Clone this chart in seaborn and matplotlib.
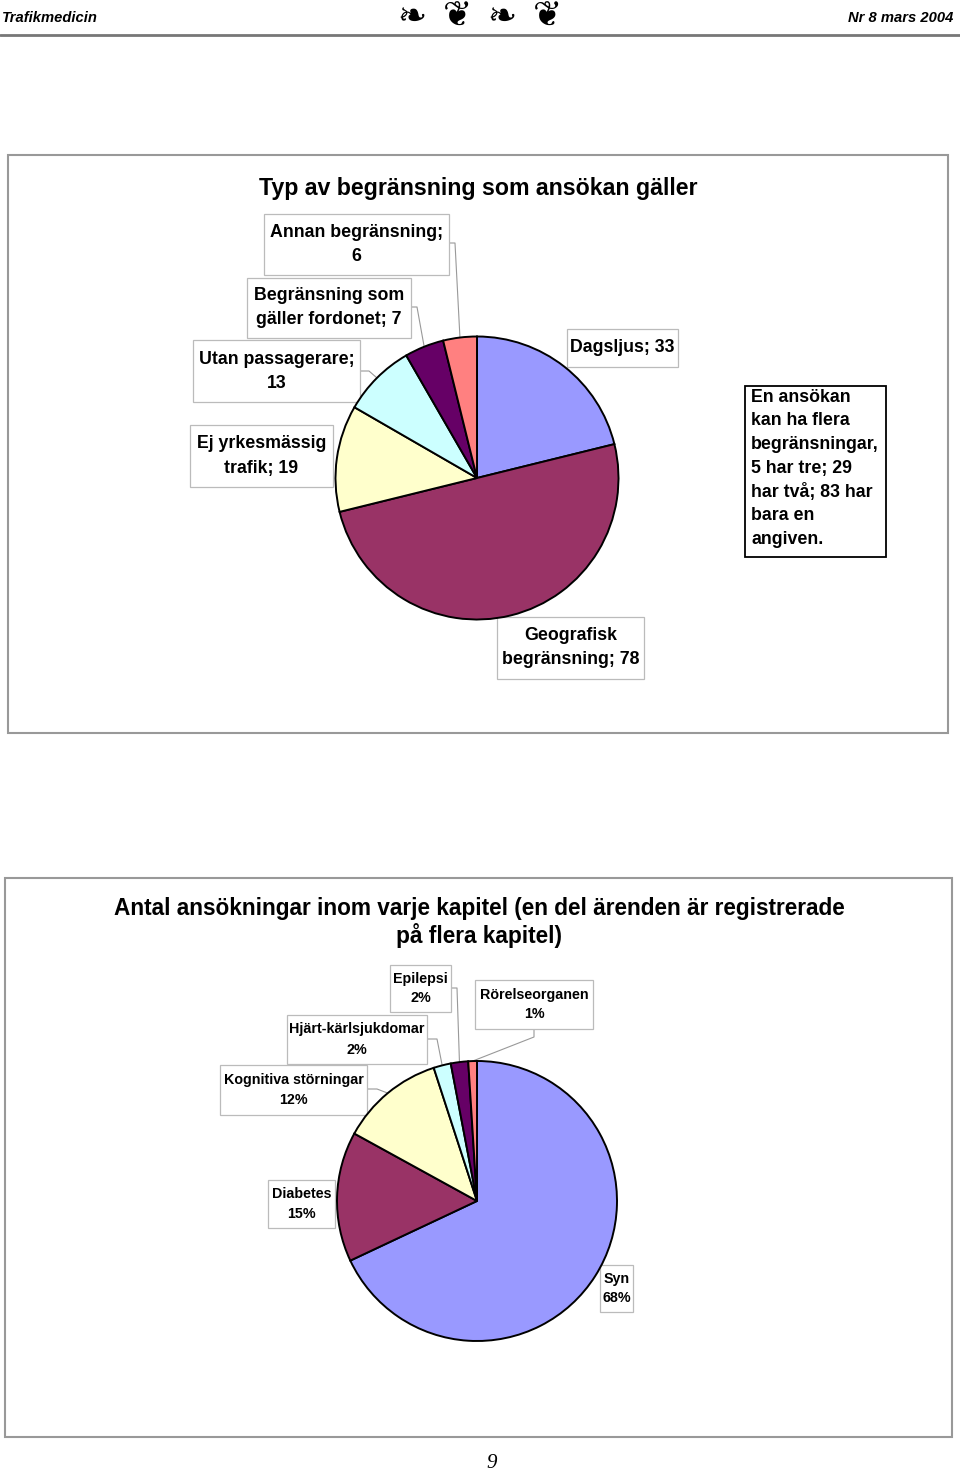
import matplotlib
matplotlib.use('Agg')
import numpy as np
import matplotlib.pyplot as plt
import seaborn as sns
from matplotlib.patches import Rectangle

sns.set_theme(style="white")
plt.rcParams['font.family'] = ['Liberation Sans', 'DejaVu Sans']
plt.rcParams['text.color'] = 'black'

# --- data ---
restriction_names = ['Dagsljus', 'Geografisk\nbegränsning', 'Ej yrkesmässig\ntrafik',
                     'Utan passagerare', 'Begränsning som\ngäller fordonet', 'Annan begränsning']
restriction_counts = [33, 78, 19, 13, 7, 6]

chapter_names = ['Syn', 'Diabetes', 'Kognitiva störningar', 'Hjärt-kärlsjukdomar',
                 'Epilepsi', 'Rörelseorganen']
chapter_pct = [68, 15, 12, 2, 2, 1]

slice_colors = ['#9999FF', '#993366', '#FFFFCC', '#CCFFFF', '#660066', '#FF8080']

note_lines = ['En ansökan', 'kan ha flera', 'begränsningar,', '5 har tre; 29',
              'har två; 83 har', 'bara en', 'angiven.']

W, H = 960, 1472
fig = plt.figure(figsize=(W / 100, H / 100), dpi=100)
fig.patch.set_facecolor('white')

bg = fig.add_axes([0, 0, 1, 1])
bg.set_xlim(0, W)
bg.set_ylim(H, 0)
bg.axis('off')


def draw_pie(values, cx, cy, r, pad=1.03):
    half = r * pad
    ax = fig.add_axes([(cx - half) / W, (H - cy - half) / H, 2 * half / W, 2 * half / H])
    wedges, _ = ax.pie(values, colors=slice_colors, startangle=90, counterclock=False,
                       wedgeprops=dict(edgecolor='black', linewidth=1.4))
    ax.set_xlim(-pad, pad)
    ax.set_ylim(-pad, pad)
    ax.set_aspect('equal')
    ax.axis('off')
    # mid point of each wedge on the rim, in page pixels
    rims = []
    for w in wedges:
        a = np.deg2rad((w.theta1 + w.theta2) / 2)
        rims.append((cx + r * np.cos(a), cy - r * np.sin(a)))
    return rims


def label_box(text, box, size, spacing, start=None, rim=None, edge='#BBBBBB'):
    x0, y0, x1, y1 = box
    bg.add_patch(Rectangle((x0, y0), x1 - x0, y1 - y0, facecolor='white',
                           edgecolor=edge, linewidth=0.9, zorder=2))
    lines = text.split('\n')
    yc = (y0 + y1) / 2
    for i, ln in enumerate(lines):
        y = yc + (i - (len(lines) - 1) / 2) * spacing
        bg.text((x0 + x1) / 2, y, ln, ha='center', va='center', fontsize=size,
                fontweight='bold', zorder=3)
    if start is not None and rim is not None:
        sx, sy, ex = start
        bg.plot([sx, ex, rim[0]], [sy, sy, rim[1]], color='#999999', lw=0.8, zorder=1)


# --- page header ---
bg.text(2, 18, 'Trafikmedicin', ha='left', va='center', fontsize=10.6, fontweight='bold',
        fontstyle='italic')
bg.text(953, 18, 'Nr 8 mars 2004', ha='right', va='center', fontsize=10.6, fontweight='bold',
        fontstyle='italic')
for i, g in enumerate(['❧', '❦', '❧', '❦']):
    bg.text(412 + i * 45, 17, g, ha='center', va='center', fontsize=25,
            family=['DejaVu Sans'])
bg.plot([0, W], [35, 35], color='#777777', lw=2)

# --- chart 1 ---
bg.add_patch(Rectangle((8, 155), 940, 578, facecolor='white', edgecolor='#999999', lw=1.5))
bg.text(478, 188, 'Typ av begränsning som ansökan gäller', ha='center', va='center',
        fontsize=16.7, fontweight='bold')

rim1 = draw_pie(restriction_counts, 477, 478, 141.5)

labels1 = []
for name, v in zip(restriction_names, restriction_counts):
    sep = '\n' if ('\n' not in name and len(name) > 10) else ' '
    labels1.append(f'{name};{sep}{v}')

layout1 = [
    ((567, 329, 678, 367), None),
    ((497, 617, 644, 679), None),
    ((190, 425, 333, 487), None),
    ((193, 340, 360, 402), (360, 371, 369)),
    ((247, 278, 411, 338), (411, 307, 417)),
    ((264, 214, 449, 275), (449, 243, 455)),
]
for text, (box, start), rim in zip(labels1, layout1, rim1):
    label_box(text, box, 12.8, 24, start, rim)

# note box
bg.add_patch(Rectangle((745, 386), 141, 171, facecolor='white', edgecolor='black', lw=1.3))
for i, ln in enumerate(note_lines):
    bg.text(751, 397 + i * 23.8, ln, ha='left', va='center', fontsize=12.8, fontweight='bold')

# --- chart 2 ---
bg.add_patch(Rectangle((5, 878), 947, 559, facecolor='white', edgecolor='#999999', lw=1.5))
bg.text(479, 908, 'Antal ansökningar inom varje kapitel (en del ärenden är registrerade',
        ha='center', va='center', fontsize=16.3, fontweight='bold')
bg.text(479, 936, 'på flera kapitel)', ha='center', va='center', fontsize=16.3,
        fontweight='bold')

rim2 = draw_pie(chapter_pct, 477, 1201, 140)

labels2 = [f'{n}\n{v}%' for n, v in zip(chapter_names, chapter_pct)]
layout2 = [
    ((600, 1265, 633, 1312), None),
    ((268, 1180, 335, 1228), None),
    ((220, 1065, 367, 1115), (367, 1089, 377)),
    ((287, 1015, 427, 1064), (427, 1039, 437)),
    ((390, 965, 451, 1012), (451, 988, 457)),
    ((475, 980, 593, 1029), None),
]
for text, (box, start), rim in zip(labels2, layout2, rim2):
    label_box(text, box, 10.3, 20, start, rim)

# Rörelseorganen leader drops from the box bottom
bg.plot([534, 534, rim2[5][0]], [1029, 1037, rim2[5][1]], color='#999999', lw=0.8, zorder=1)

# page number
bg.text(492, 1463, '9', ha='center', va='center', fontsize=15, fontstyle='italic',
        family=['Liberation Serif', 'DejaVu Serif'])

fig.savefig('out.png', dpi=100, facecolor='white')
